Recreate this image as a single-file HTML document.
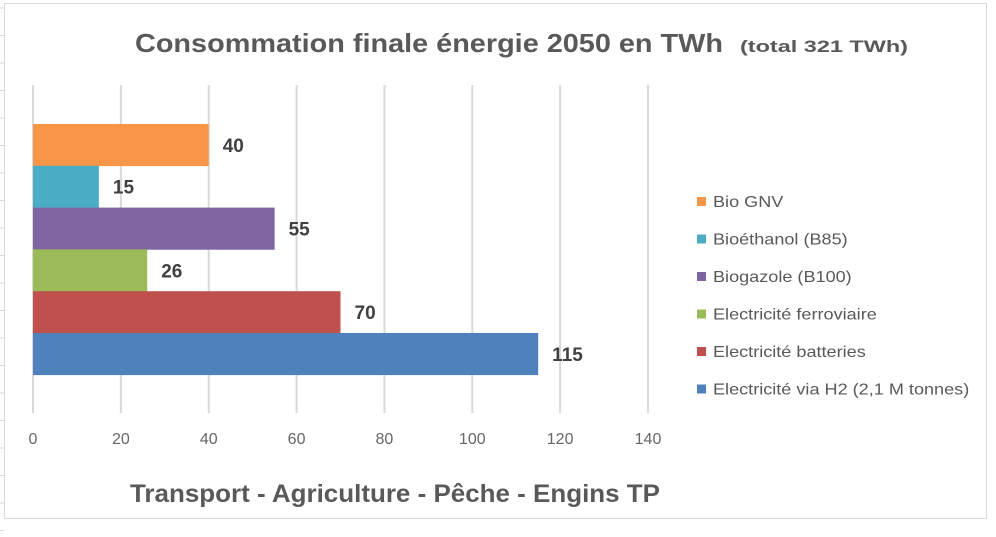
<!DOCTYPE html>
<html><head><meta charset="utf-8"><style>
body{margin:0;width:996px;height:532px;overflow:hidden;background:#fff;font-family:"Liberation Sans",sans-serif}
</style></head><body>
<svg width="996" height="532" id="svg">
<g id="bg" stroke="#d9d9d9" stroke-width="1"></g>
<rect x="4.5" y="3.5" width="982" height="515" fill="#fff" stroke="#d9d9d9"/>
<text x="135" y="52" font-size="26" font-weight="bold" fill="#595959" textLength="588" lengthAdjust="spacingAndGlyphs">Consommation finale énergie 2050 en TWh</text>
<text x="740" y="52" font-size="17" font-weight="bold" fill="#595959" textLength="168" lengthAdjust="spacingAndGlyphs">(total 321 TWh)</text>
<g id="grid"></g><g id="bars"></g><g id="legend"></g>
<text x="395" y="502" text-anchor="middle" font-size="25" font-weight="bold" fill="#595959" textLength="530" lengthAdjust="spacingAndGlyphs">Transport - Agriculture - Pêche - Engins TP</text>
</svg>
<script>
const categories=["Bio GNV","Bioéthanol (B85)","Biogazole (B100)","Electricité ferroviaire","Electricité batteries","Electricité via H2 (2,1 M tonnes)"];
const values=[40,15,55,26,70,115];
const colors=["#f79646","#4bacc6","#8064a2","#9bbb59","#c0504d","#4f81bd"];
const ticks=[0,20,40,60,80,100,120,140];
const NS="http://www.w3.org/2000/svg";
function mk(t,a,p){const e=document.createElementNS(NS,t);for(const k in a)e.setAttribute(k,a[k]);p.appendChild(e);return e;}
const x=v=>33+v*(615/140);
const bg=document.getElementById('bg');
for(let y=8;y<532;y+=27.5){const l=mk('line',{x1:0,x2:4,y1:y,y2:y},bg);}
const grid=document.getElementById('grid');
ticks.forEach(t=>{const l=mk('line',{x1:x(t),x2:x(t),y1:85,y2:413,stroke:'#d9d9d9','stroke-width':2},grid);

const tx=mk('text',{x:x(t),y:444,'text-anchor':'middle','font-size':16,fill:'#666'},grid);tx.textContent=t;
});
const bars=document.getElementById('bars');const top0=124,bh=41.8;
values.forEach((v,i)=>{const y=top0+i*bh;
const r=mk('rect',{x:x(0),y:y,width:x(v)-x(0),height:bh+0.3,fill:colors[i]},bars);

const t=mk('text',{x:x(v)+14,y:y+bh/2+7,'font-size':19,'font-weight':'bold',fill:'#404040'},bars);t.textContent=v;
});
const lg=document.getElementById('legend');
categories.forEach((c,i)=>{const y=201+i*37.5;
const s=mk('rect',{x:697,y:y-4,width:9,height:9,fill:colors[i]},lg);

const t=mk('text',{x:713,y:y+6,'font-size':16,fill:'#595959'},lg);t.textContent=c;

const w=t.getComputedTextLength();t.setAttribute('textLength',w*1.13);t.setAttribute('lengthAdjust','spacingAndGlyphs');});
</script>
</body></html>
